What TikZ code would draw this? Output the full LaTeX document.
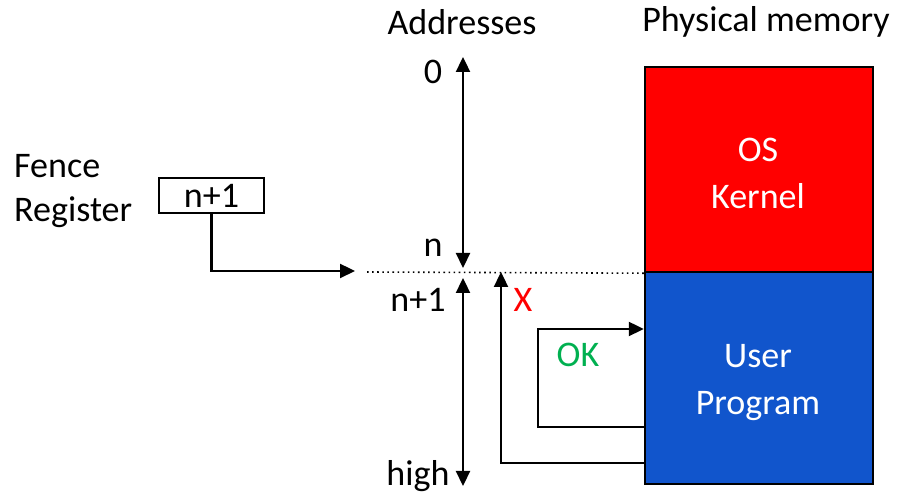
\documentclass[tikz,border=0pt]{standalone}
\usepackage{fontspec}
\setmainfont{Carlito}
\usepackage{xcolor}
\usetikzlibrary{arrows.meta,positioning}
\definecolor{kernelred}{RGB}{255,0,0}
\definecolor{userblue}{RGB}{17,85,204}
\definecolor{okgreen}{RGB}{0,176,80}

\begin{document}
\begin{tikzpicture}[font=\fontsize{20.5}{24}\selectfont,
  arr/.style={-{Triangle[length=3mm,width=2.8mm]}, line width=1.3pt},
  twoarr/.style={{Triangle[length=3mm,width=2.8mm]}-{Triangle[length=3mm,width=2.8mm]}, line width=1.3pt},
  memblock/.style={draw, line width=1.4pt, minimum width=4.56cm, inner sep=0pt},
  memtext/.style={text=white, align=center}]
\useasboundingbox (0,0) rectangle (17.98,9.94);
% memory
\node[memblock, fill=kernelred, minimum height=4.1cm] (kernel) at (15.18,6.55) {};
\node[memblock, fill=userblue, minimum height=4.24cm] (user) at (15.18,2.38) {};
\node[memtext] (kerneltxt) at (15.16,6.47) {OS\\[3pt]Kernel};
\node[memtext] (usertxt) at (15.16,2.29) {User\\[3pt]Program};
\node (phys) at (15.32,9.5) {Physical memory};
% address axis
\node (addr) at (9.24,9.5) {Addresses};
\coordinate (atop) at (9.26,8.8);
\coordinate (an) at (9.26,4.58);
\coordinate (an1) at (9.26,4.38);
\coordinate (ahigh) at (9.26,0.22);
\draw[twoarr] (atop) -- (an);
\draw[twoarr] (an1) -- (ahigh);
\node (zero) at (8.66,8.5) {0};
\node (nlab) at (8.66,4.98) {n};
\node (n1lab) at (8.36,3.94) {n+1};
\node (highlab) at (8.36,0.42) {high};
\coordinate (fence) at (7.34,4.5);
\draw[dotted, line width=0.9pt] (fence) -- (kernel.south west);
% fence register
\node[anchor=west] (fencelab) at (0.16,6.62) {Fence};
\node[anchor=west] (reglab) at (0.16,5.7) {Register};
\node[draw, line width=1.3pt, minimum width=2.1cm, minimum height=0.7cm, inner sep=0pt] (reg) at (4.23,6.03) {n+1};
\coordinate (regend) at (7.1,4.52);
\draw[arr] (reg.south) |- (regend);
% accesses
\coordinate (xstart) at (user.west |- 0,0.68);
\coordinate (xend) at (10.02,4.5);
\draw[arr] (xstart) -| (xend);
\node[text=kernelred] (xlab) at (10.46,3.94) {X};
\coordinate (okstart) at (user.west |- 0,1.4);
\coordinate (okcorner) at (10.76,3.36);
\coordinate (okend) at (user.west |- 0,3.36);
\draw[arr] (okstart) -| (okcorner) -- (okend);
\node[text=okgreen] (oklab) at (11.56,2.84) {OK};
\end{tikzpicture}
\end{document}
